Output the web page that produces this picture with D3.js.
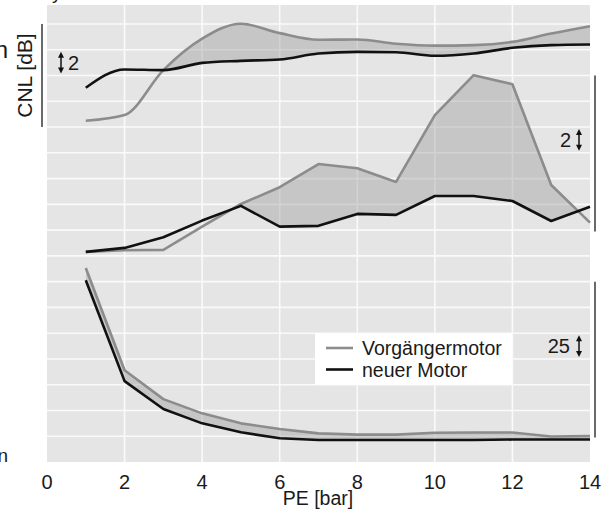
<!DOCTYPE html>
<html>
<head>
<meta charset="utf-8">
<script src="https://cdn.jsdelivr.net/npm/d3@7/dist/d3.min.js"></script>
<style>
  html, body { margin: 0; padding: 0; background: #fff; }
  svg { display: block; }
  text { font-family: "Liberation Sans", Arial, Helvetica, sans-serif; fill: #1a1a1a; }
</style>
</head>
<body>
<svg id="chart" width="612" height="517"></svg>
<script>
// PE operating points [bar]
const pe = [1, 2, 3, 4, 5, 6, 7, 8, 9, 10, 11, 12, 13, 14];

// Upper trace: CNL [dB] (relative, 2 dB per grid step)
const cnlVorgaenger = [0.49, 0.93, 4.42, 6.86, 8.02, 7.29, 6.78, 6.80, 6.47, 6.32, 6.36, 6.61, 7.26, 7.83];
const cnlNeu        = [3.05, 4.47, 4.42, 4.98, 5.14, 5.25, 5.71, 5.84, 5.81, 5.53, 5.71, 6.15, 6.36, 6.41];

// Middle trace (relative, 2 units per grid step)
const midVorgaenger = [0.31, 0.44, 0.47, 2.27, 4.03, 5.33, 7.13, 6.80, 5.74, 10.93, 14.03, 13.33, 5.50, 2.58];
const midNeu        = [0.31, 0.62, 1.45, 2.74, 3.88, 2.27, 2.33, 3.26, 3.18, 4.65, 4.65, 4.26, 2.71, 3.82];

// Lower trace (relative, 25 units per grid step)
const lowVorgaenger = [188.3, 89.1, 61.0, 47.2, 37.5, 32.0, 27.8, 26.6, 26.6, 28.4, 28.6, 28.6, 24.7, 25.2];
const lowNeu        = [176.4, 78.5, 51.4, 37.5, 28.8, 23.0, 21.3, 21.3, 21.3, 21.3, 21.3, 21.8, 21.8, 21.8];

const xTicks = [0, 2, 4, 6, 8, 10, 12, 14];
const seriesNames = ["Vorgängermotor", "neuer Motor"];

const svg = d3.select("#chart");

const x = d3.scaleLinear().domain([0, 14]).range([47, 590]);
// shared horizontal grid (grid steps)
const gridY = d3.scaleLinear().domain([0, 17]).range([24, 462]);
const panelTop = gridY(-0.74), panelBottom = gridY(17);

// per-trace vertical scales
const yTop = d3.scaleLinear().domain([0, 2]).range([gridY(4), gridY(3)]);
const yMid = d3.scaleLinear().domain([0, 2]).range([gridY(9), gridY(8)]);
const yLow = d3.scaleLinear().domain([0, 25]).range([gridY(17), gridY(16)]);

// panel background and grid
svg.append("rect")
  .attr("x", x(0)).attr("y", panelTop)
  .attr("width", x(14) - x(0)).attr("height", panelBottom - panelTop)
  .attr("fill", "#e5e5e5");

svg.append("g").selectAll("line")
  .data(d3.range(0, 17))
  .join("line")
  .attr("x1", x(0)).attr("x2", x(14))
  .attr("y1", d => gridY(d)).attr("y2", d => gridY(d))
  .attr("stroke", "#fafafa").attr("stroke-width", 1.6);

svg.append("g").selectAll("line")
  .data(xTicks.filter(t => t > 0 && t < 14))
  .join("line")
  .attr("x1", d => x(d)).attr("x2", d => x(d))
  .attr("y1", panelTop).attr("y2", panelBottom)
  .attr("stroke", "#fafafa").attr("stroke-width", 1.6);

const defs = svg.append("defs");

function drawTrace(id, older, newer, y, curve) {
  const rows = pe.map((p, i) => ({ p, a: older[i], b: newer[i] }));
  // region above the new-motor line: fill only where the predecessor is higher
  defs.append("clipPath").attr("id", id)
    .append("path")
    .attr("d", d3.area().curve(curve)
      .x(d => x(d.p)).y0(d => y(d.b)).y1(panelTop)(rows));

  svg.append("path")
    .attr("clip-path", `url(#${id})`)
    .attr("d", d3.area().curve(curve)
      .x(d => x(d.p)).y0(d => y(d.b)).y1(d => y(d.a))(rows))
    .attr("fill", "#9a9a9a").attr("fill-opacity", 0.42);

  svg.append("path")
    .attr("d", d3.line().curve(curve).x(d => x(d.p)).y(d => y(d.a))(rows))
    .attr("fill", "none").attr("stroke", "#8c8c8c").attr("stroke-width", 2.6)
    .attr("stroke-linejoin", "round");

  svg.append("path")
    .attr("d", d3.line().curve(curve).x(d => x(d.p)).y(d => y(d.b))(rows))
    .attr("fill", "none").attr("stroke", "#111").attr("stroke-width", 2.6)
    .attr("stroke-linejoin", "round");
}

drawTrace("clip-top", cnlVorgaenger, cnlNeu, yTop, d3.curveMonotoneX);
drawTrace("clip-mid", midVorgaenger, midNeu, yMid, d3.curveLinear);
drawTrace("clip-low", lowVorgaenger, lowNeu, yLow, d3.curveLinear);

// x axis labels
svg.append("g").selectAll("text")
  .data(xTicks)
  .join("text")
  .attr("x", d => x(d)).attr("y", 489)
  .attr("text-anchor", "middle").attr("font-size", 20)
  .text(d => d);

svg.append("text")
  .attr("x", 318).attr("y", 505)
  .attr("text-anchor", "middle").attr("font-size", 19.5)
  .text("PE [bar]");

// y label with extent bar
svg.append("text")
  .attr("transform", `translate(32,${gridY(2)}) rotate(-90)`)
  .attr("text-anchor", "middle").attr("font-size", 21)
  .text("CNL [dB]");
svg.append("line")
  .attr("x1", 42).attr("x2", 42)
  .attr("y1", gridY(0)).attr("y2", gridY(4))
  .attr("stroke", "#444").attr("stroke-width", 1.6);

// extent bars on the right
[[gridY(2), gridY(8.05)], [gridY(10), gridY(16.05)]].forEach(([a, b]) => {
  svg.append("line")
    .attr("x1", 595).attr("x2", 595).attr("y1", a).attr("y2", b)
    .attr("stroke", "#444").attr("stroke-width", 1.6);
});

// scale arrows (one grid step)
function scaleArrow(ax, g0, label, anchor, lx) {
  const y0 = gridY(g0) + 2, y1 = gridY(g0 + 1) - 2;
  const grp = svg.append("g");
  grp.append("line")
    .attr("x1", ax).attr("x2", ax).attr("y1", y0 + 4).attr("y2", y1 - 4)
    .attr("stroke", "#111").attr("stroke-width", 1.5);
  grp.append("path")
    .attr("d", `M${ax},${y0} L${ax - 3},${y0 + 6} L${ax + 3},${y0 + 6} Z`)
    .attr("fill", "#111");
  grp.append("path")
    .attr("d", `M${ax},${y1} L${ax - 3},${y1 - 6} L${ax + 3},${y1 - 6} Z`)
    .attr("fill", "#111");
  grp.append("text")
    .attr("x", lx).attr("y", (y0 + y1) / 2 + 7)
    .attr("text-anchor", anchor).attr("font-size", 20)
    .text(label);
}
scaleArrow(61, 1, "2", "start", 68);
scaleArrow(579, 4, "2", "end", 571);
scaleArrow(579, 12, "25", "end", 570);

// legend
const lg = svg.append("g");
lg.append("rect")
  .attr("x", 315).attr("y", gridY(12))
  .attr("width", 197).attr("height", gridY(14) - gridY(12))
  .attr("fill", "#fff");
seriesNames.forEach((name, i) => {
  const ly = 348 + i * 21.5;
  lg.append("line")
    .attr("x1", 326).attr("x2", 353).attr("y1", ly).attr("y2", ly)
    .attr("stroke", i === 0 ? "#8c8c8c" : "#111").attr("stroke-width", 2.6);
  lg.append("text")
    .attr("x", 362).attr("y", ly + 7)
    .attr("font-size", 19.5)
    .text(name);
});

// edge fragments of neighbouring labels
svg.append("text").attr("x", 52).attr("y", -1).attr("font-size", 19).text("y");
svg.append("text").attr("x", 8).attr("y", 58).attr("text-anchor", "end").attr("font-size", 24).text("n");
svg.append("text").attr("x", 8).attr("y", 462).attr("text-anchor", "end").attr("font-size", 19).text("n");
</script>
</body>
</html>
